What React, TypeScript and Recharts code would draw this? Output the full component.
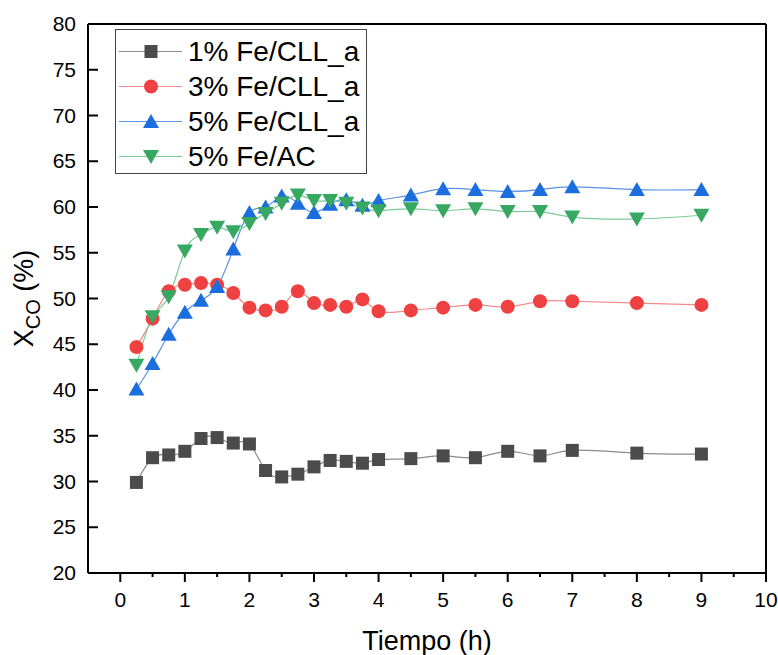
import { LineChart, Line, XAxis, YAxis, ReferenceLine, Legend } from "recharts";

const times = [0.25, 0.5, 0.75, 1, 1.25, 1.5, 1.75, 2, 2.25, 2.5, 2.75, 3, 3.25, 3.5, 3.75, 4, 4.5, 5, 5.5, 6, 6.5, 7, 8, 9];

const fe1Cll = [29.9, 32.6, 32.9, 33.3, 34.7, 34.8, 34.2, 34.1, 31.2, 30.5, 30.8, 31.6, 32.3, 32.2, 32.0, 32.4, 32.5, 32.8, 32.6, 33.3, 32.8, 33.4, 33.1, 33.0];
const fe3Cll = [44.7, 47.8, 50.8, 51.5, 51.7, 51.5, 50.6, 49.0, 48.7, 49.1, 50.8, 49.5, 49.3, 49.1, 49.9, 48.6, 48.7, 49.0, 49.3, 49.1, 49.7, 49.7, 49.5, 49.3];
const fe5Cll = [40.1, 42.9, 46.1, 48.5, 49.8, 51.3, 55.4, 59.4, 60.0, 61.2, 60.4, 59.4, 60.3, 60.8, 60.2, 60.7, 61.3, 62.0, 61.9, 61.7, 61.9, 62.2, 61.9, 61.9];
const fe5Ac = [42.7, 48.0, 50.2, 55.2, 57.0, 57.8, 57.3, 58.2, 59.3, 60.4, 61.3, 60.7, 60.7, 60.4, 59.9, 59.6, 59.8, 59.6, 59.8, 59.5, 59.5, 58.9, 58.7, 59.1];

const seriesNames = ["1% Fe/CLL_a", "3% Fe/CLL_a", "5% Fe/CLL_a", "5% Fe/AC"];

const xMajorTicks = [0, 1, 2, 3, 4, 5, 6, 7, 8, 9, 10];
const xMinorTicks = [0.5, 1.5, 2.5, 3.5, 4.5, 5.5, 6.5, 7.5, 8.5, 9.5];
const yTicks = [20, 25, 30, 35, 40, 45, 50, 55, 60, 65, 70, 75, 80];

const FONT = "'Liberation Sans', Arial, sans-serif";

const data = times.map((t, i) => ({
  t,
  fe1: fe1Cll[i],
  fe3: fe3Cll[i],
  fe5: fe5Cll[i],
  ac5: fe5Ac[i],
}));

type Shape = "square" | "circle" | "up" | "down";

const series: { key: string; name: string; shape: Shape; fill: string; line: string }[] = [
  { key: "fe1", name: seriesNames[0], shape: "square", fill: "#4b4b4b", line: "#8a8a8a" },
  { key: "fe3", name: seriesNames[1], shape: "circle", fill: "#ef4141", line: "#f28a8a" },
  { key: "fe5", name: seriesNames[2], shape: "up", fill: "#1c6ede", line: "#5b93e6" },
  { key: "ac5", name: seriesNames[3], shape: "down", fill: "#37a862", line: "#7ccb97" },
];

const Marker = ({ shape, cx, cy, fill }: { shape: Shape; cx: number; cy: number; fill: string }) => {
  if (shape === "square") return <rect x={cx - 6.5} y={cy - 6.5} width={13} height={13} fill={fill} />;
  if (shape === "circle") return <circle cx={cx} cy={cy} r={7} fill={fill} />;
  if (shape === "up")
    return <polygon points={`${cx},${cy - 7.5} ${cx - 8},${cy + 6.5} ${cx + 8},${cy + 6.5}`} fill={fill} />;
  return <polygon points={`${cx},${cy + 7.5} ${cx - 8},${cy - 6.5} ${cx + 8},${cy - 6.5}`} fill={fill} />;
};

const XTick = ({ x, y, payload }: any) => {
  const v = payload.value;
  const major = Number.isInteger(v);
  return (
    <g>
      <line x1={x} x2={x} y1={y} y2={y + (major ? 9 : 4)} stroke="#000" strokeWidth={2} />
      {major && (
        <text x={x} y={y + 34} textAnchor="middle" fontSize={21} fontFamily={FONT} fill="#000">
          {v}
        </text>
      )}
    </g>
  );
};

const YTick = ({ x, y, payload }: any) => (
  <g>
    <line x1={x} x2={x + 10} y1={y} y2={y} stroke="#000" strokeWidth={2} />
    <text x={x - 12} y={y} dy={7} textAnchor="end" fontSize={21} fontFamily={FONT} fill="#000">
      {payload.value}
    </text>
  </g>
);

const LegendBox = () => (
  <div
    style={{
      border: "1px solid #444",
      width: 252,
      height: 145,
      boxSizing: "border-box",
      paddingTop: 4,
      fontFamily: FONT,
      background: "#fff",
    }}
  >
    {series.map((s) => (
      <div key={s.key} style={{ display: "flex", alignItems: "center", height: 35 }}>
        <svg width={70} height={35} style={{ display: "block" }}>
          <line x1={3} x2={66} y1={17.5} y2={17.5} stroke={s.line} strokeWidth={1.2} />
          <Marker shape={s.shape} cx={35} cy={17.5} fill={s.fill} />
        </svg>
        <span style={{ fontSize: 28, marginLeft: 2, color: "#000", lineHeight: "35px" }}>{s.name}</span>
      </div>
    ))}
  </div>
);

export default function App() {
  return (
    <div style={{ position: "absolute", left: 0, top: 0, background: "#fff" }}>
      <LineChart width={778} height={655} data={data} margin={{ top: 24, right: 12, bottom: 0, left: 0 }}>
        <XAxis
          dataKey="t"
          type="number"
          domain={[-0.5, 10]}
          allowDataOverflow
          ticks={[...xMajorTicks, ...xMinorTicks].sort((a, b) => a - b)}
          interval={0}
          height={82}
          tickSize={0}
          tickMargin={0}
          axisLine={{ stroke: "#000", strokeWidth: 2 }}
          tick={<XTick />}
          label={{
            content: ({ viewBox }: any) => (
              <text
                x={viewBox.x + viewBox.width / 2}
                y={viewBox.y + 77}
                textAnchor="middle"
                fontSize={27}
                fontFamily={FONT}
                fill="#000"
              >
                Tiempo (h)
              </text>
            ),
          }}
        />
        <YAxis
          type="number"
          domain={[20, 80]}
          ticks={yTicks}
          interval={0}
          width={88}
          tickSize={0}
          tickMargin={0}
          axisLine={{ stroke: "#000", strokeWidth: 2 }}
          tick={<YTick />}
          label={{
            content: ({ viewBox }: any) => {
              const cx = 33;
              const cy = viewBox.y + viewBox.height / 2;
              return (
                <text
                  x={cx}
                  y={cy}
                  transform={`rotate(-90, ${cx}, ${cy})`}
                  textAnchor="middle"
                  fontSize={27}
                  fontFamily={FONT}
                  fill="#000"
                >
                  X
                  <tspan fontSize={20} dy={7}>
                    CO
                  </tspan>
                  <tspan dy={-7}> (%)</tspan>
                </text>
              );
            },
          }}
        />
        <ReferenceLine y={80} stroke="#000" strokeWidth={2} />
        <ReferenceLine x={10} stroke="#000" strokeWidth={2} />
        {series.map((s) => (
          <Line
            key={s.key}
            dataKey={s.key}
            name={s.name}
            type="natural"
            stroke={s.line}
            strokeWidth={1.2}
            isAnimationActive={false}
            activeDot={false}
            dot={(p: any) =>
              p.cx == null || p.cy == null ? (
                <g key={p.key} />
              ) : (
                <g key={p.key}>
                  <Marker shape={s.shape} cx={p.cx} cy={p.cy} fill={s.fill} />
                </g>
              )
            }
          />
        ))}
        <Legend
          layout="vertical"
          align="center"
          verticalAlign="middle"
          wrapperStyle={{ left: 115, top: 29, width: 252 }}
          content={() => <LegendBox />}
        />
      </LineChart>
    </div>
  );
}
